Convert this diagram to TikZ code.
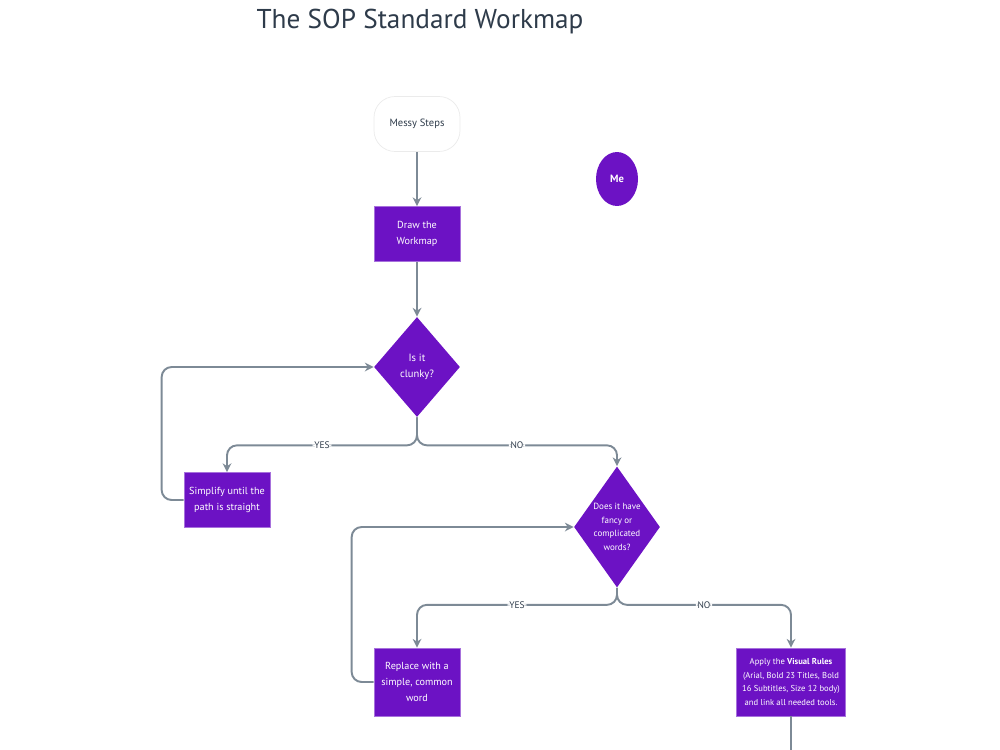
\documentclass[tikz,border=0pt]{standalone}
\usepackage{fontspec}
\setmainfont{PT Sans}
\usetikzlibrary{shapes.geometric,arrows.meta}

\definecolor{wmpurple}{HTML}{6C12C4}
\definecolor{wmline}{HTML}{7D8A96}
\definecolor{wmtitle}{HTML}{2E3B4A}

\tikzset{
  stepbox/.style={rectangle, fill=wmpurple, draw=wmpurple!60!white, text=white,
    minimum width=1.72cm, minimum height=1.1cm, align=center, inner sep=1pt,
    font=\fontsize{5.8}{9}\selectfont},
  startbox/.style={rectangle, rounded corners=0.42cm, fill=white, draw=black!8,
    minimum width=1.72cm, minimum height=1.1cm, text=wmtitle,
    font=\fontsize{6}{9}\selectfont},
  askbox/.style={diamond, fill=wmpurple, text=white, align=center, inner sep=0pt,
    font=\fontsize{6}{9}\selectfont},
  flow/.style={draw=wmline, line width=1.1pt, rounded corners=0.2cm,
    -{Stealth[length=5pt,width=5pt]}},
  plain/.style={draw=wmline, line width=1.1pt},
  answer/.style={fill=white, inner sep=1pt, text=wmtitle,
    font=\fontsize{5.4}{6}\selectfont}
}

\begin{document}
\begin{tikzpicture}[x=0.02cm, y=-0.02cm]
  \useasboundingbox (0,0) rectangle (1000,750);

  % Title
  \node[text=wmtitle, font=\fontsize{15.5}{18}\selectfont] (title) at (420,22) {The SOP Standard Workmap};

  % Start and owner
  \node[startbox] (messy) at (417,124) {Messy Steps};
  \node[ellipse, fill=wmpurple, text=white, minimum width=0.84cm, minimum height=1.08cm,
    font=\fontsize{6}{9}\selectfont\bfseries] (me) at (617,179) {Me};

  % Steps
  \node[stepbox] (draw) at (417,234) {Draw the\\Workmap};
  \node[askbox, minimum width=1.72cm, minimum height=2cm, shape aspect=0.86] (clunky) at (417,367) {Is it\\clunky?};
  \node[stepbox] (simplify) at (227,500) {Simplify until the\\path is straight};
  \node[askbox, minimum width=1.72cm, minimum height=2.42cm, shape aspect=0.71,
    font=\fontsize{5.1}{7.8}\selectfont] (fancy) at (617,527) {Does it have\\fancy or\\complicated\\words?};
  \node[stepbox, minimum height=1.36cm] (replace) at (417,682) {Replace with a\\simple, common\\word};
  \node[stepbox, minimum width=2.18cm, minimum height=1.36cm,
    font=\fontsize{4.9}{7.8}\selectfont] (apply) at (791,682)
    {Apply the \textbf{Visual Rules}\\(Arial, Bold 23 Titles, Bold\\16 Subtitles, Size 12 body)\\and link all needed tools.};
  \coordinate (next) at (791,750);

  % Connections
  \draw[flow] (messy) -- (draw);
  \draw[flow] (draw) -- (clunky);
  \draw[flow] (clunky.south) -- ++(0,28) -| node[answer, pos=0.25] {YES} (simplify.north);
  \draw[flow] (clunky.south) -- ++(0,28) -| node[answer, pos=0.25] {NO} (fancy.north);
  \draw[flow] (simplify.west) -- ++(-22,0) |- (clunky.west);
  \draw[flow] (fancy.south) -- ++(0,17) -| node[answer, pos=0.25] {YES} (replace.north);
  \draw[flow] (fancy.south) -- ++(0,17) -| node[answer, pos=0.25] {NO} (apply.north);
  \draw[flow] (replace.west) -- ++(-22,0) |- (fancy.west);
  \draw[plain] (apply.south) -- (next);
\end{tikzpicture}
\end{document}
